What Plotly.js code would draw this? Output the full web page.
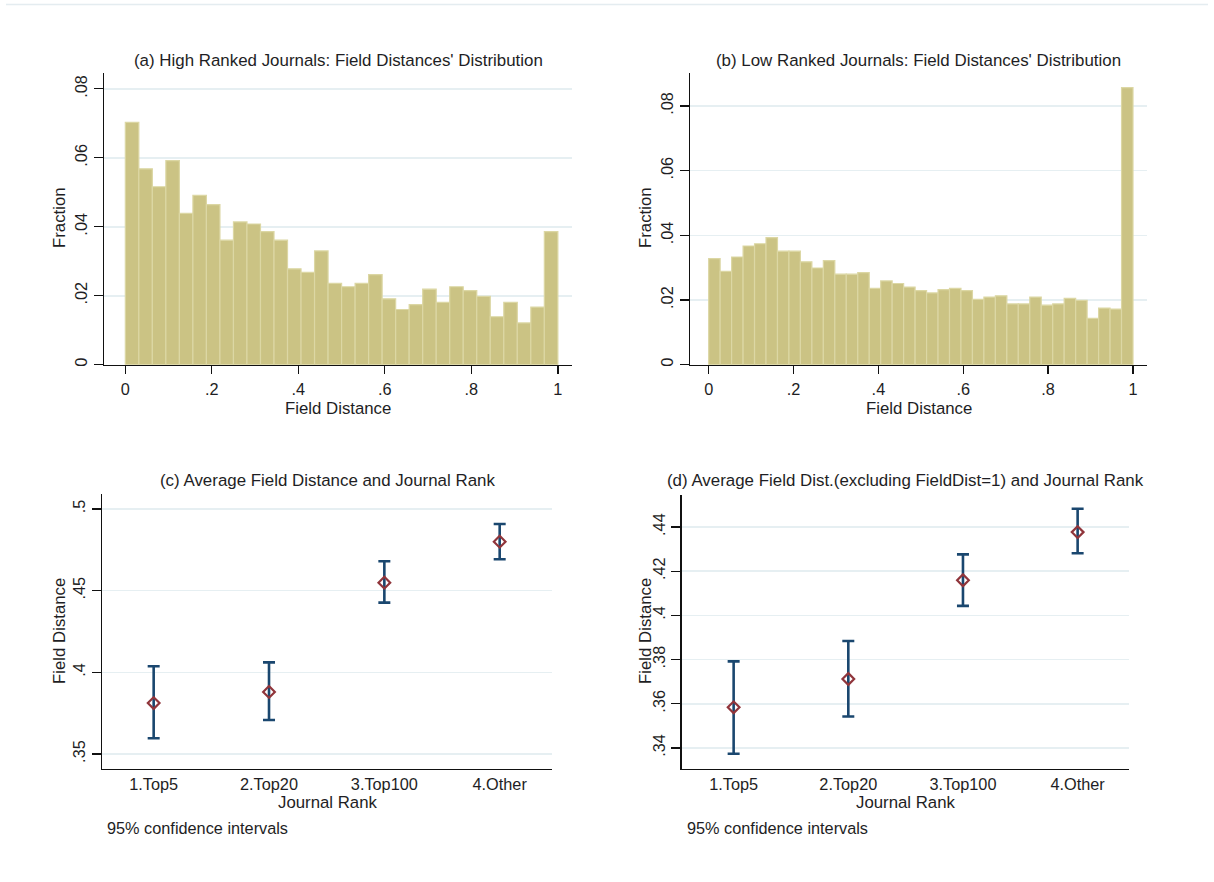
<!DOCTYPE html>
<html>
<head>
<meta charset="utf-8">
<script src="https://cdn.plot.ly/plotly-3.0.1.min.js"></script>
<style>html,body{margin:0;padding:0;background:#fff;}#chart{width:1214px;height:882px;}</style>
</head>
<body>
<div id="chart"></div>
<script>
// ---- data ----
const highRankedFractions = [0.0703,0.0568,0.0516,0.0592,0.0439,0.0491,0.0464,0.0361,0.0414,0.0408,0.0386,0.0361,0.0278,0.0268,0.0330,0.0236,0.0226,0.0236,0.0261,0.0191,0.0160,0.0174,0.0219,0.0181,0.0226,0.0215,0.0198,0.0139,0.0181,0.0121,0.0167,0.0386];
const lowRankedFractions = [0.0328,0.0289,0.0333,0.0367,0.0374,0.0393,0.0351,0.0351,0.0318,0.0299,0.0322,0.0280,0.0280,0.0285,0.0236,0.0259,0.0251,0.0240,0.0229,0.0222,0.0232,0.0236,0.0229,0.0202,0.0209,0.0213,0.0188,0.0188,0.0209,0.0184,0.0188,0.0205,0.0199,0.0143,0.0175,0.0172,0.0857];
const rankCategories = ["1.Top5","2.Top20","3.Top100","4.Other"];
const meanAll = [0.3812,0.3880,0.4549,0.4800];
const upperAll = [0.4037,0.4061,0.4680,0.4908];
const lowerAll = [0.3596,0.3708,0.4427,0.4692];
const meanExcl = [0.3584,0.3712,0.4159,0.4377];
const upperExcl = [0.3792,0.3884,0.4276,0.4483];
const lowerExcl = [0.3374,0.3542,0.4043,0.4281];
const distTickVals = [0,0.2,0.4,0.6,0.8,1];
const distTickText = ["0",".2",".4",".6",".8","1"];
const fracTickVals = [0,0.02,0.04,0.06,0.08];
const fracTickText = ["0",".02",".04",".06",".08"];
const avgTickVals = [0.35,0.4,0.45,0.5];
const avgTickText = [".35",".4",".45",".5"];
const exclTickVals = [0.34,0.36,0.38,0.40,0.42,0.44];
const exclTickText = [".34",".36",".38",".4",".42",".44"];

// ---- styles ----
const W = 1214, H = 882;
const FONT = "Liberation Sans, Arial, sans-serif";
const TXT = "#1e1e24";
const BAR_FILL = "#cbc384";
const BAR_LINE = "#dcd7a4";
const NAVY = "#1a476f";
const MAROON = "#90353b";
const GRID = "#e6eff2";
const px = x => x / W;
const py = y => (H - y) / H;

function binCenters(n){ const c=[]; for(let i=0;i<n;i++) c.push((i+0.5)/n); return c; }
const catIdx = rankCategories.map((_, i) => i + 1);

const traces = [
  {type:"bar", x: binCenters(highRankedFractions.length), y: highRankedFractions, width: 1/highRankedFractions.length,
   marker:{color:BAR_FILL, line:{color:BAR_LINE, width:1.2}}, xaxis:"x", yaxis:"y", hoverinfo:"x+y"},
  {type:"bar", x: binCenters(lowRankedFractions.length), y: lowRankedFractions, width: 1/lowRankedFractions.length,
   marker:{color:BAR_FILL, line:{color:BAR_LINE, width:1.2}}, xaxis:"x2", yaxis:"y2", hoverinfo:"x+y"},
  {type:"scatter", mode:"markers", x: catIdx, y: meanAll,
   error_y:{type:"data", symmetric:false, array: upperAll.map((u,i)=>u-meanAll[i]), arrayminus: meanAll.map((m,i)=>m-lowerAll[i]),
            color:NAVY, thickness:2.6, width:6},
   marker:{symbol:"diamond-open", size:9, color:MAROON, line:{width:2.2, color:MAROON}}, xaxis:"x3", yaxis:"y3"},
  {type:"scatter", mode:"markers", x: catIdx, y: meanExcl,
   error_y:{type:"data", symmetric:false, array: upperExcl.map((u,i)=>u-meanExcl[i]), arrayminus: meanExcl.map((m,i)=>m-lowerExcl[i]),
            color:NAVY, thickness:2.6, width:6},
   marker:{symbol:"diamond-open", size:9, color:MAROON, line:{width:2.2, color:MAROON}}, xaxis:"x4", yaxis:"y4"}
];

const tickFont = {family: FONT, size: 16.3, color: TXT};
function xAx(dom, range, extra){ return Object.assign({domain:dom, range:range, showline:true, linecolor:"#111", linewidth:1.5,
  showgrid:false, zeroline:false, tickfont:tickFont, fixedrange:true}, extra); }
function yAx(dom, range, anchor, vals, text){ return {domain:dom, range:range, anchor:anchor, showline:true, linecolor:"#111", linewidth:1.5,
  showgrid:true, gridcolor:GRID, gridwidth:1.6, zeroline:false, ticks:"outside", ticklen:9, tickwidth:1.3, tickcolor:"#111",
  tickvals:vals, ticktext:text, tickangle:-90, tickfont:tickFont, ticklabelstandoff:0, fixedrange:true}; }

const layout = {
  width: W, height: H, margin:{l:0,r:0,t:0,b:0}, paper_bgcolor:"#fff", plot_bgcolor:"#fff",
  showlegend:false, bargap:0, font:{family:FONT, color:TXT},
  xaxis:  xAx([px(104.3), px(571.7)], [-0.0486, 1.032], {anchor:"y", ticks:"outside", ticklen:8, tickwidth:1.3, tickcolor:"#111", tickvals:distTickVals, ticktext:distTickText, ticklabelstandoff:1}),
  yaxis:  yAx([py(364.7), py(73.3)], [0, 0.0845], "x", fracTickVals, fracTickText),
  xaxis2: xAx([px(690), px(1147)], [-0.044, 1.033], {anchor:"y2", ticks:"outside", ticklen:8, tickwidth:1.3, tickcolor:"#111", tickvals:distTickVals, ticktext:distTickText, ticklabelstandoff:1}),
  yaxis2: yAx([py(364.7), py(73.3)], [0, 0.0901], "x2", fracTickVals, fracTickText),
  xaxis3: xAx([px(102), px(551.7)], [0.552, 4.451], {anchor:"y3", ticks:"", tickvals:catIdx, ticktext:rankCategories, ticklabelstandoff:0}),
  yaxis3: yAx([py(768.7), py(494.3)], [0.341, 0.509], "x3", avgTickVals, avgTickText),
  xaxis4: xAx([px(681.7), px(1129)], [0.547, 4.448], {anchor:"y4", ticks:"", tickvals:catIdx, ticktext:rankCategories, ticklabelstandoff:0}),
  yaxis4: yAx([py(768.7), py(495)], [0.3306, 0.4545], "x4", exclTickVals, exclTickText),
  shapes: [
    {type:"line", xref:"paper", yref:"paper", x0:px(6), x1:px(1208), y0:py(4.5), y1:py(4.5), line:{color:"#e4ecf0", width:1.5}}
  ],
  annotations: []
};

function ann(text, x, y, size, opts){
  layout.annotations.push(Object.assign({text:text, xref:"paper", yref:"paper", x:px(x), y:py(y), xanchor:"center", yanchor:"middle",
    showarrow:false, font:{family:FONT, size:size, color:TXT}}, opts||{}));
}
ann("(a) High Ranked Journals: Field Distances' Distribution", 338, 60.7, 16.9);
ann("(b) Low Ranked Journals: Field Distances' Distribution", 918.5, 60.7, 16.9);
ann("(c) Average Field Distance and Journal Rank", 327.5, 480.7, 16.9);
ann("(d) Average Field Dist.(excluding FieldDist=1) and Journal Rank", 905, 480.7, 16.9);
ann("Field Distance", 338, 408.5, 16.8);
ann("Field Distance", 919, 408.5, 16.8);
ann("Journal Rank", 327, 802.5, 16.8);
ann("Journal Rank", 905.7, 802.5, 16.8);
ann("Fraction", 60, 218, 16.8, {textangle:-90});
ann("Fraction", 646, 218, 16.8, {textangle:-90});
ann("Field Distance", 59, 631, 16.8, {textangle:-90});
ann("Field Distance", 645, 631, 16.8, {textangle:-90});
ann("95% confidence intervals", 105, 828, 16.3, {xanchor:"left"});
ann("95% confidence intervals", 685, 828, 16.3, {xanchor:"left"});

Plotly.newPlot("chart", traces, layout, {displayModeBar:false, staticPlot:true});
</script>
</body>
</html>
